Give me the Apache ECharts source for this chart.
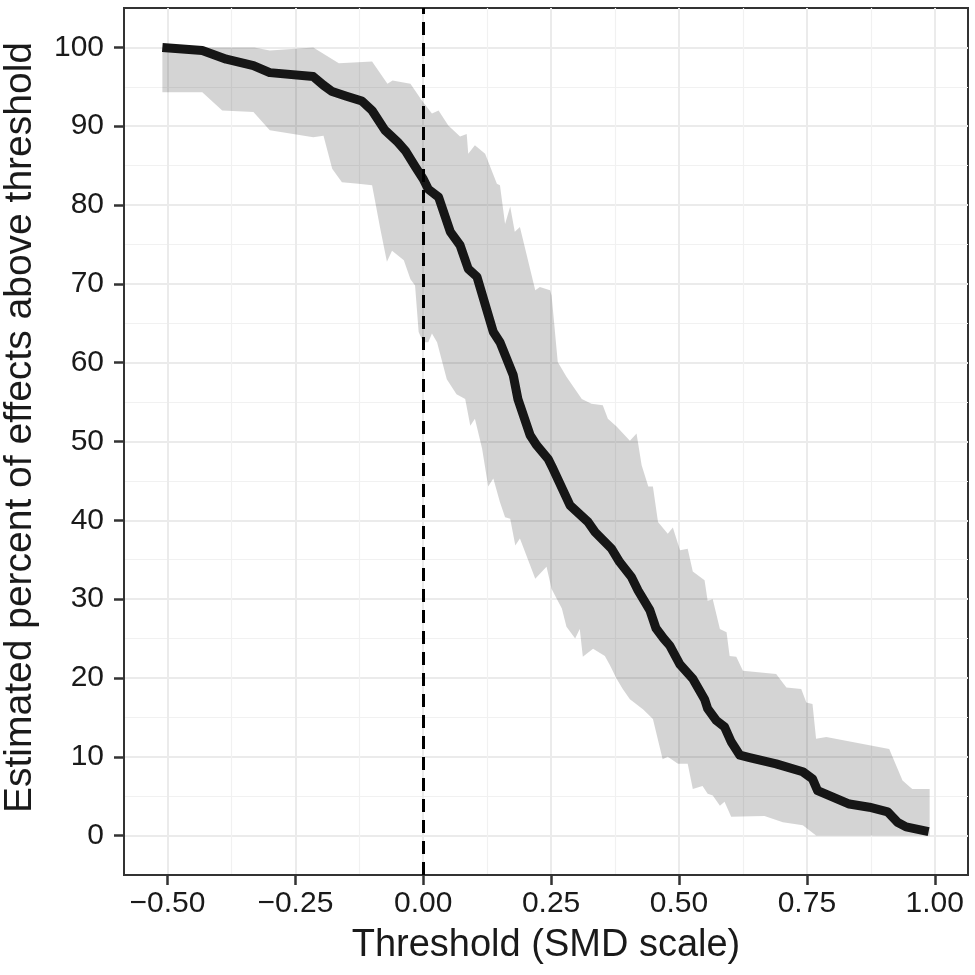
<!DOCTYPE html>
<html>
<head>
<meta charset="utf-8">
<script src="https://cdn.jsdelivr.net/npm/echarts@6/dist/echarts.min.js"></script>
<style>
html,body{margin:0;padding:0;background:#fff;}
#chart{width:975px;height:975px;}
</style>
</head>
<body>
<div id="chart"></div>
<script>
// Estimated percent of effects above threshold (line)
var lineData = [
  [-0.51, 100.0], [-0.432, 99.6], [-0.385, 98.5], [-0.332, 97.7], [-0.30, 96.8],
  [-0.215, 96.3], [-0.195, 95.2], [-0.178, 94.4], [-0.15, 93.8], [-0.12, 93.2],
  [-0.10, 92.0], [-0.075, 89.5], [-0.05, 88.0], [-0.035, 86.9], [-0.015, 84.8],
  [0.0, 83.3], [0.01, 82.0], [0.03, 81.0], [0.053, 76.6], [0.072, 74.9],
  [0.088, 71.9], [0.105, 70.9], [0.137, 63.9], [0.15, 62.6], [0.176, 58.4],
  [0.185, 55.4], [0.209, 50.8], [0.222, 49.5], [0.244, 47.8], [0.254, 46.5],
  [0.287, 41.9], [0.322, 39.8], [0.336, 38.5], [0.368, 36.4], [0.384, 34.7],
  [0.407, 32.8], [0.42, 31.1], [0.443, 28.6], [0.455, 26.3], [0.47, 25.0],
  [0.482, 24.1], [0.502, 21.7], [0.527, 19.9], [0.55, 17.3], [0.556, 16.1],
  [0.573, 14.6], [0.589, 13.8], [0.602, 11.9], [0.619, 10.2], [0.638, 9.9],
  [0.69, 9.1], [0.742, 8.1], [0.761, 7.2], [0.771, 5.7], [0.833, 4.0],
  [0.872, 3.6], [0.908, 3.0], [0.927, 1.7], [0.944, 1.1], [0.988, 0.5]
];
// Upper bound of the uncertainty band
var upperBand = [
  [-0.51, 100], [-0.33, 100], [-0.30, 99.6], [-0.215, 100], [-0.165, 98.0],
  [-0.10, 98.2], [-0.07, 95.4], [-0.06, 95.8], [-0.025, 95.4], [-0.003, 93.3],
  [0.017, 91.6], [0.03, 92.0], [0.049, 90.1], [0.072, 88.7], [0.085, 89.0],
  [0.088, 86.5], [0.101, 87.6], [0.121, 86.5], [0.144, 82.7], [0.15, 82.5],
  [0.16, 77.6], [0.17, 79.8], [0.179, 76.6], [0.189, 77.2], [0.219, 69.2],
  [0.228, 69.6], [0.248, 69.2], [0.251, 68.5], [0.263, 60.1], [0.28, 58.2],
  [0.31, 55.4], [0.329, 54.8], [0.351, 54.6], [0.361, 52.9], [0.378, 51.9],
  [0.404, 50.1], [0.417, 51.0], [0.427, 47.0], [0.44, 44.3], [0.449, 44.3],
  [0.459, 39.8], [0.478, 38.3], [0.488, 39.1], [0.502, 36.2], [0.517, 36.4],
  [0.527, 33.5], [0.55, 32.4], [0.556, 29.8], [0.566, 30.0], [0.58, 26.2],
  [0.593, 25.8], [0.599, 22.8], [0.612, 22.7], [0.625, 20.9], [0.69, 20.5],
  [0.71, 18.8], [0.739, 18.6], [0.749, 16.9], [0.761, 16.7], [0.768, 12.3],
  [0.788, 12.5], [0.911, 11.0], [0.937, 7.0], [0.956, 5.9], [0.99, 5.9]
];
// Lower bound of the uncertainty band
var lowerBand = [
  [-0.51, 94.3], [-0.432, 94.3], [-0.393, 92.0], [-0.332, 91.8], [-0.30, 89.5],
  [-0.215, 88.6], [-0.195, 88.8], [-0.178, 84.6], [-0.159, 82.9], [-0.127, 82.7],
  [-0.10, 82.5], [-0.084, 77.0], [-0.071, 72.8], [-0.061, 74.2], [-0.038, 73.0],
  [-0.025, 70.6], [-0.016, 69.8], [-0.009, 63.9], [0.0, 62.6], [0.01, 62.6],
  [0.017, 63.7], [0.027, 62.6], [0.046, 57.9], [0.065, 56.0], [0.082, 55.4],
  [0.092, 52.0], [0.101, 52.9], [0.115, 49.1], [0.127, 44.3], [0.137, 45.3],
  [0.15, 42.3], [0.16, 40.4], [0.17, 40.2], [0.18, 36.8], [0.189, 37.7],
  [0.219, 32.6], [0.241, 34.1], [0.251, 31.3], [0.271, 28.8], [0.28, 26.5],
  [0.297, 25.0], [0.306, 26.2], [0.312, 22.7], [0.332, 23.7], [0.355, 22.8],
  [0.365, 21.6], [0.378, 19.9], [0.39, 18.6], [0.404, 17.3], [0.43, 16.0],
  [0.449, 14.8], [0.468, 9.7], [0.478, 10.0], [0.498, 9.1], [0.517, 9.1],
  [0.527, 5.9], [0.546, 6.3], [0.556, 5.3], [0.566, 5.1], [0.58, 3.8],
  [0.589, 4.3], [0.602, 2.4], [0.667, 2.5], [0.703, 1.7], [0.742, 1.3],
  [0.768, 0.0], [0.99, 0.0]
];
var xTicks = [-0.5, -0.25, 0, 0.25, 0.5, 0.75, 1.0];
var xMinor = [-0.375, -0.125, 0.125, 0.375, 0.625, 0.875];
var yTicks = [0, 10, 20, 30, 40, 50, 60, 70, 80, 90, 100];
var yMinor = [5, 15, 25, 35, 45, 55, 65, 75, 85, 95];
var refLineX = 0;
var xTitle = 'Threshold (SMD scale)';
var yTitle = 'Estimated percent of effects above threshold';

var FONT = 'Liberation Sans, Arial, Helvetica, sans-serif';
var chart = echarts.init(document.getElementById('chart'), null, {renderer: 'canvas'});

function fmtX(v) {
  var s = Math.abs(v).toFixed(2);
  return (v < -1e-9 ? '\u2212' : '') + s;
}

var option = {
  animation: false,
  backgroundColor: '#ffffff',
  grid: {
    left: 124, right: 7, top: 8, bottom: 100,
    show: true, borderColor: '#333333', borderWidth: 2,
    backgroundColor: '#ffffff',
    outerBoundsMode: 'none'
  },
  xAxis: [
    {
      type: 'value', min: -0.585, max: 1.065,
      position: 'bottom',
      name: xTitle, nameLocation: 'middle', nameGap: 52,
      nameTextStyle: {fontFamily: FONT, fontSize: 38, color: '#1a1a1a'},
      axisLine: {show: true, onZero: false, lineStyle: {color: '#333333', width: 2}},
      axisTick: {show: true, inside: false, length: 10, customValues: xTicks,
        lineStyle: {color: '#333333', width: 2.5}},
      axisLabel: {show: true, margin: 14, customValues: xTicks, formatter: fmtX,
        fontFamily: FONT, fontSize: 30, color: '#1a1a1a'},
      splitLine: {show: true, customValues: xTicks, lineStyle: {color: '#ebebeb', width: 2}},
      minorTick: {show: false}, minorSplitLine: {show: false}
    },
    {
      type: 'value', min: -0.585, max: 1.065,
      position: 'top',
      axisLine: {show: false},
      axisTick: {show: false, customValues: xMinor},
      axisLabel: {show: false, customValues: xMinor},
      splitLine: {show: true, customValues: xMinor, lineStyle: {color: '#f1f1f1', width: 1.2}}
    }
  ],
  yAxis: [
    {
      type: 'value', min: -5, max: 105,
      position: 'left',
      name: yTitle, nameLocation: 'middle', nameGap: 84, nameRotate: 90,
      nameTextStyle: {fontFamily: FONT, fontSize: 39, color: '#1a1a1a', padding: [0, 0, 0, 28]},
      axisLine: {show: true, onZero: false, lineStyle: {color: '#333333', width: 2}},
      axisTick: {show: true, inside: false, length: 10, customValues: yTicks,
        lineStyle: {color: '#333333', width: 2.5}},
      axisLabel: {show: true, margin: 20, customValues: yTicks,
        fontFamily: FONT, fontSize: 30, color: '#1a1a1a'},
      splitLine: {show: true, customValues: yTicks, lineStyle: {color: '#ebebeb', width: 2}}
    },
    {
      type: 'value', min: -5, max: 105,
      position: 'right',
      axisLine: {show: false},
      axisTick: {show: false, customValues: yMinor},
      axisLabel: {show: false, customValues: yMinor},
      splitLine: {show: true, customValues: yMinor, lineStyle: {color: '#f1f1f1', width: 1.2}}
    }
  ],
  series: [
    {
      type: 'custom',
      name: 'band',
      xAxisIndex: 0, yAxisIndex: 0,
      z: 2,
      silent: true,
      data: [[0, 50]],
      renderItem: function (params, api) {
        var pts = [];
        for (var i = 0; i < upperBand.length; i++) pts.push(api.coord(upperBand[i]));
        for (var j = lowerBand.length - 1; j >= 0; j--) pts.push(api.coord(lowerBand[j]));
        return {
          type: 'polygon',
          shape: {points: pts},
          style: {fill: 'rgba(0,0,0,0.17)', stroke: null}
        };
      },
      markLine: {
        silent: true,
        symbol: ['none', 'none'],
        label: {show: false},
        lineStyle: {type: [13, 8], width: 3, color: '#000000'},
        data: [{xAxis: refLineX}]
      }
    },
    {
      type: 'line',
      name: 'estimate',
      xAxisIndex: 0, yAxisIndex: 0,
      z: 3,
      data: lineData,
      symbol: 'none',
      showSymbol: false,
      smooth: false,
      lineStyle: {width: 9, color: '#161616', cap: 'butt', join: 'round'}
    }
  ]
};
chart.setOption(option);
</script>
</body>
</html>
